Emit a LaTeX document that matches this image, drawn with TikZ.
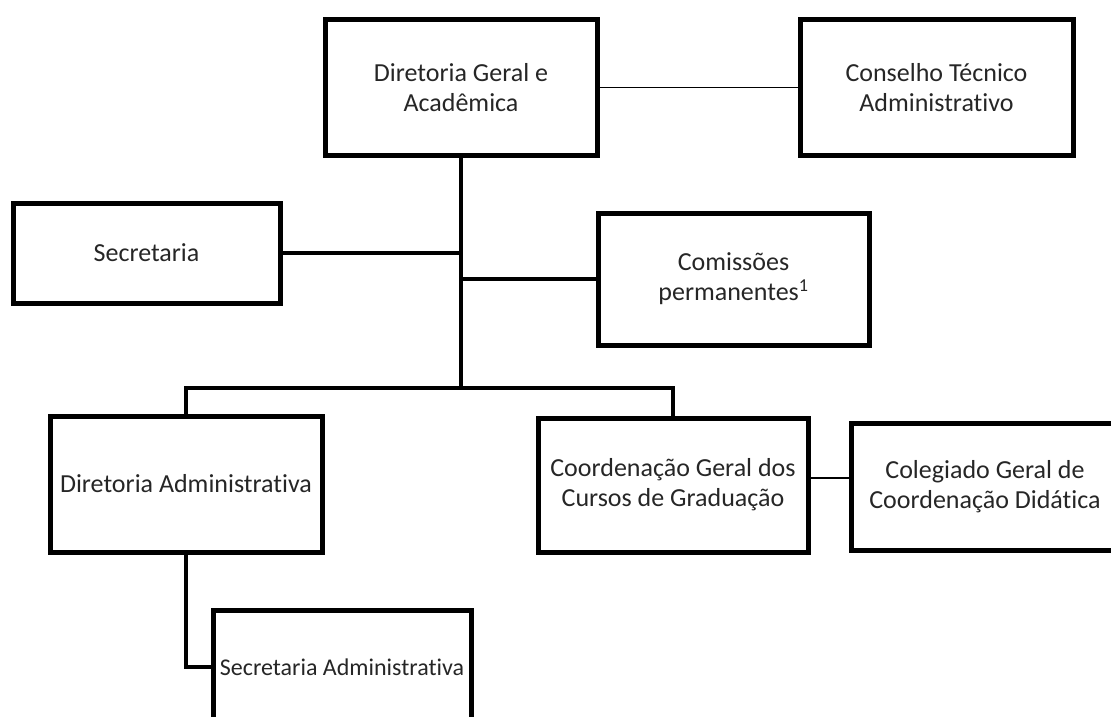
\documentclass[tikz,border=0pt]{standalone}
\usepackage{fontspec}
\setmainfont{Carlito}[Ligatures=NoCommon]
\begin{document}
\begin{tikzpicture}[x=1pt,y=-1pt,
  box/.style={draw=black, line width=5pt, align=center, inner sep=0pt,
    font=\fontsize{26}{30}\selectfont, text=black!85},
  heavyline/.style={line width=4.5pt},
  lightline/.style={line width=1.8pt}]
\useasboundingbox (0,0) rectangle (1111,717);
\clip (0,0) rectangle (1111,717);
\node[box, minimum width=272, minimum height=135] (dg) at (461,87.5) {Diretoria Geral e\\Acadêmica};
\node[box, minimum width=273, minimum height=135] (cta) at (936.5,87.5) {Conselho Técnico\\Administrativo};
\node[box, minimum width=267, minimum height=100] (sec) at (146.5,253) {Secretaria};
\node[box, minimum width=271, minimum height=132] (com) at (733.5,279) {Comissões\\permanentes\textsuperscript{1}};
\node[box, minimum width=272, minimum height=136] (da) at (186,484) {Diretoria Administrativa};
\node[box, minimum width=270, minimum height=134] (cg) at (673,485) {Coordenação Geral dos\\Cursos de Graduação};
\node[box, minimum width=268, minimum height=127] (col) at (985,486.5) {Colegiado Geral de\\Coordenação Didática};
\node[box, minimum width=258, minimum height=114, font=\fontsize{24}{28}\selectfont] (sa) at (342,667) {Secretaria Administrativa};
\coordinate (j) at (461,388);
\draw[heavyline] (dg.south) -- (j);
\draw[heavyline] (sec.east) -- (sec.east -| dg.south);
\draw[heavyline] (com.west -| dg.south) -- (com.west);
\draw[heavyline] (da.north) |- (j) -| (cg.north);
\draw[heavyline] (da.south) |- (sa.west);
\draw[lightline] (dg.east) -- (cta.west);
\draw[lightline] (cg.east |- 0,478) -- (col.west |- 0,478);
\end{tikzpicture}
\end{document}
